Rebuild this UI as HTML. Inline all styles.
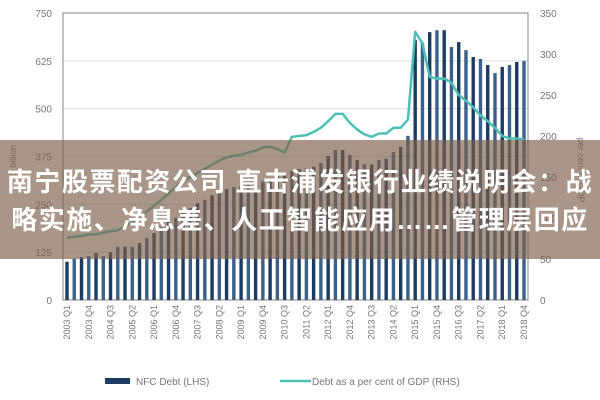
<!DOCTYPE html>
<html><head><meta charset="utf-8"><style>
body{margin:0;background:#fff;width:600px;height:400px;overflow:hidden;position:relative;font-family:"Liberation Sans",sans-serif}
#ov{position:absolute;left:0;top:140px;width:600px;height:119px;background:rgba(125,95,75,0.66)}
.t{position:absolute;left:0;width:600px;text-align:center;color:#fff;font-weight:bold;font-size:26px;letter-spacing:1.5px;font-family:"Liberation Sans","Noto Sans CJK SC",sans-serif;white-space:nowrap;line-height:30px}
</style></head><body>
<svg id="c" width="600" height="400" style="position:absolute;left:0;top:0"></svg>
<div id="ov">
<div class="t" style="top:27px">南宁股票配资公司 直击浦发银行业绩说明会：战</div>
<div class="t" style="top:65px">略实施、净息差、人工智能应用……管理层回应</div>
</div>
<script>
const years=[2003,2004,2005,2006,2007,2008,2009,2010,2011,2012,2013,2014,2015,2016,2017,2018];
const debt=[100,108,112,115,123,115,125,139,139,139,149,162,
175,190,205,215,228,240,253,262,274,
282,290,295,298,300,305,310,318,325,332,338,342,345,
348,358,376,392,392,379,366,355,354,366,369,387,400,429,
680,672,700,705,705,661,674,653,635,630,614,593,609,614,622,625];
const gdpPct=[76,77,78,80,80,82,84,85,90,95,100,108,115,122,130,138,145,150,155,160,165,170,174,176,177,180,182,186,187,184,180,199,200,201,205,210,218,227,227,216,208,202,199,203,203,210,210,220,327,313,272,270,270,265,250,243,235,225,218,210,200,197,197,196];
const leftTicks=[0,125,250,375,500,625,750];
const rightTicks=[0,50,100,150,200,250,300,350];
const NS='http://www.w3.org/2000/svg';
const svg=document.getElementById('c');
const X0=67,X1=524,YT=13,YB=300,PL=63,PR=528;
const cats=[];years.forEach(y=>{for(let q=1;q<=4;q++)cats.push(y+' Q'+q);});
const xS=i=>X0+i*(X1-X0)/(cats.length-1);
const yL=v=>YB-v/750*(YB-YT);
const yR=v=>YB-v/350*(YB-YT);
function mk(t,a){const e=document.createElementNS(NS,t);for(const k in a)e.setAttribute(k,a[k]);svg.appendChild(e);return e;}
leftTicks.forEach(v=>{
 const g=mk('line',{x1:PL,x2:PR,y1:yL(v),y2:yL(v),stroke:'#dcdcdc','stroke-width':1});
 
 
 const t=mk('text',{x:52,y:yL(v)+4,'text-anchor':'end','font-size':10,fill:'#777'});
 t.textContent=v;
 
 
});
rightTicks.forEach(v=>{
 const t=mk('text',{x:540,y:yR(v)+4,'font-size':10,fill:'#777'});
 t.textContent=v;
 
 
});
const fr=mk('rect',{x:PL,y:YT,width:PR-PL,height:YB-YT,fill:'none',stroke:'#999','stroke-width':1.2});


debt.forEach((v,i)=>{
 const b=mk('rect',{x:xS(i)-1.7,y:yL(v),width:3.4,height:YB-yL(v),fill:i%2?'#3c6189':'#1d3c62'});
 
 
});
const pl=mk('polyline',{points:gdpPct.map((v,i)=>xS(i)+','+yR(v)).join(' '),fill:'none',stroke:'#4cbfb6','stroke-width':2.5,'stroke-linejoin':'round'});


cats.forEach((c,i)=>{if(i%3)return;
 const t=mk('text',{x:0,y:0,'font-size':9,fill:'#777','text-anchor':'end',transform:`translate(${xS(i)+3},305) rotate(-90)`});
 t.textContent=c;
 
 
});
const a1=mk('text',{x:0,y:0,'font-size':9,fill:'#777','text-anchor':'middle',transform:'translate(16,160) rotate(-90)'});
a1.textContent='$ billion';


const a2=mk('text',{x:0,y:0,'font-size':9,fill:'#777','text-anchor':'middle',transform:'translate(578,170) rotate(90)'});
a2.textContent='per cent of GDP';


const l1=mk('rect',{x:105,y:378,width:25,height:6,fill:'#1d3c62'});


const l1t=mk('text',{x:136,y:385,'font-size':10,fill:'#777'});l1t.textContent='NFC Debt (LHS)';


const l2=mk('line',{x1:280,x2:311,y1:381,y2:381,stroke:'#4cbfb6','stroke-width':2.5});


const l2t=mk('text',{x:312,y:385,'font-size':10,fill:'#777'});l2t.textContent='Debt as a per cent of GDP (RHS)';


</script>
</body></html>
